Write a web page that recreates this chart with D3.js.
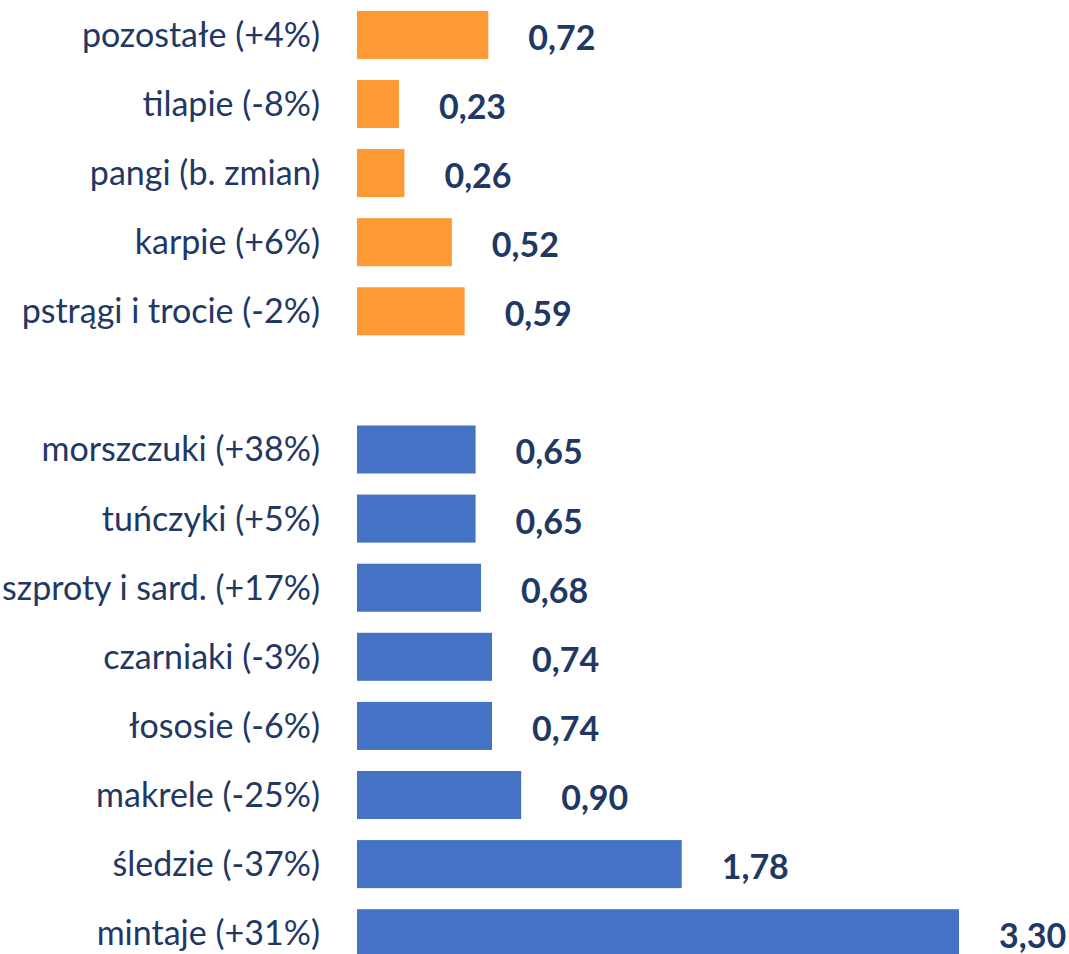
<!DOCTYPE html>
<html>
<head>
<meta charset="utf-8">
<script src="https://cdn.jsdelivr.net/npm/d3@7"></script>
<style>
  body { margin: 0; background: #fff; }
  svg { display: block; }
</style>
</head>
<body>
<svg id="chart" width="1069" height="954"></svg>
<script>
// hodowlane (orange) and dzikie (blue) groups, top to bottom
var farmedNames = ["pozostałe (+4%)", "tilapie (-8%)", "pangi (b. zmian)", "karpie (+6%)", "pstrągi i trocie (-2%)"];
var farmedValues = [0.72, 0.23, 0.26, 0.52, 0.59];

var wildNames = ["morszczuki (+38%)", "tuńczyki (+5%)", "szproty i sard. (+17%)", "czarniaki (-3%)", "łososie (-6%)", "makrele (-25%)", "śledzie (-37%)", "mintaje (+31%)"];
var wildValues = [0.65, 0.65, 0.68, 0.74, 0.74, 0.90, 1.78, 3.30];

var orange = "#ff9933",
    blue = "#4472c4",
    ink = "#1f3864";

var rows = [];
farmedNames.forEach(function(n, i) { rows.push({ name: n, value: farmedValues[i], color: orange }); });
rows.push({ name: "", value: null, color: null }); // gap between the groups
wildNames.forEach(function(n, i) { rows.push({ name: n, value: wildValues[i], color: blue }); });

var svg = d3.select("#chart"),
    x0 = 357;

var x = d3.scaleLinear()
    .domain([0, 3.30])
    .range([x0, 959]);

var y = d3.scaleBand()
    .domain(d3.range(rows.length))
    .range([0.5, 967.6])
    .paddingInner(0.305)
    .paddingOuter(0.15);

var fmt = function(v) { return d3.format(".2f")(v).replace(".", ","); };

var g = svg.append("g");

var data = rows.filter(function(d) { return d.value != null; });

g.selectAll("rect.bar")
    .data(data)
    .enter()
    .append("rect")
    .attr("class", "bar")
    .attr("x", x(0))
    .attr("y", function(d) { return y(rows.indexOf(d)); })
    .attr("width", function(d) { return x(d.value) - x(0); })
    .attr("height", y.bandwidth())
    .attr("fill", function(d) { return d.color; });

// category labels on the left
g.selectAll("text.cat")
    .data(data)
    .enter()
    .append("text")
    .attr("class", "cat")
    .attr("x", 320)
    .attr("y", function(d) { return y(rows.indexOf(d)) + y.bandwidth() / 2; })
    .attr("dy", "0.35em")
    .attr("text-anchor", "end")
    .attr("font-family", "Lato, 'Open Sans', sans-serif")
    .attr("font-size", 34)
    .attr("fill", ink)
    .text(function(d) { return d.name; });

// value labels after the bar end
g.selectAll("text.val")
    .data(data)
    .enter()
    .append("text")
    .attr("class", "val")
    .attr("x", function(d) { return x(d.value) + 40; })
    .attr("y", function(d) { return y(rows.indexOf(d)) + y.bandwidth() / 2 + 3; })
    .attr("dy", "0.35em")
    .attr("font-family", "Lato, 'Open Sans', sans-serif")
    .attr("font-weight", "bold")
    .attr("font-size", 34)
    .attr("fill", ink)
    .text(function(d) { return fmt(d.value); });
</script>
</body>
</html>
